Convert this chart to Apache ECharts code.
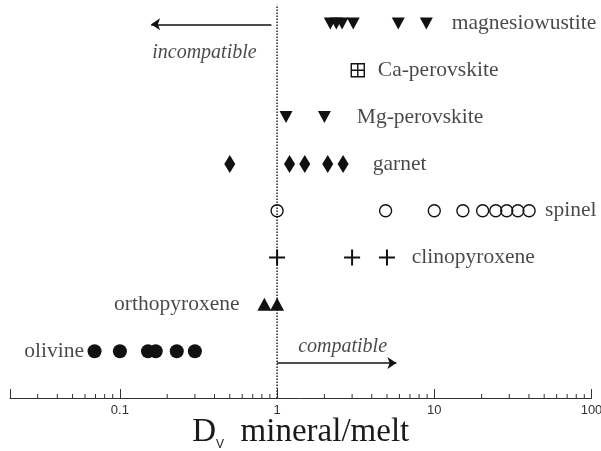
<!DOCTYPE html>
<html>
<head>
<meta charset="utf-8">
<script src="https://cdn.jsdelivr.net/npm/echarts@6/dist/echarts.min.js"></script>
<style>
  html, body { margin: 0; padding: 0; background: #fff; }
  #chart { width: 601px; height: 451px; }
</style>
</head>
<body>
<div id="chart"></div>
<script>
// Vanadium partition coefficients, mineral/melt, one row per mineral (row 1 = bottom)
const minerals = ['olivine', 'orthopyroxene', 'clinopyroxene', 'spinel', 'garnet', 'Mg-perovskite', 'Ca-perovskite', 'magnesiowustite'];
const olivine = [0.069, 0.10, 0.151, 0.169, 0.23, 0.30];
const orthopyroxene = [0.83, 1.0];
const clinopyroxene = [1.0, 3.0, 5.0];
const spinel = [1.0, 4.9, 10, 15.2, 20.3, 24.6, 28.9, 34.0, 40.1];
const garnet = [0.50, 1.2, 1.5, 2.1, 2.63];
const mgPerovskite = [1.14, 2.0];
const caPerovskite = [3.26];
const magnesiowustite = [2.18, 2.38, 2.59, 3.05, 5.9, 8.9];

// Where each mineral's name is anchored on the D axis, and on which side of the anchor it sits
const nameAnchors = [0.0592, 0.577, 7.19, 50.6, 4.06, 3.21, 4.37, 12.9];
const nameSides = ['left', 'left', 'right', 'right', 'right', 'right', 'right', 'right'];

// Axis ticks
const majorTickLabels = ['0.1', '1', '10', '100'];
const minorTicks = [0.03, 0.04, 0.05, 0.06, 0.07, 0.08, 0.09,
                    0.2, 0.3, 0.4, 0.5, 0.6, 0.7, 0.8, 0.9,
                    2, 3, 4, 5, 6, 7, 8, 9,
                    20, 30, 40, 50, 60, 70, 80, 90];

// Direction arrows: [start D, end D, row], and their captions: [D, row]
const incompatibleArrow = [0.92, 0.158, 7.98];
const compatibleArrow = [1.0, 5.74, 0.75];
const incompatibleCaption = [0.345, 7.37];
const compatibleCaption = [2.61, 1.09];

const INK = '#111';
const TEXT = '#1a1a1a';
const SERIF = '"Liberation Serif", "Times New Roman", serif';

const row = (name) => minerals.indexOf(name) + 1;
const pts = (values, name) => values.map(v => [v, row(name)]);

const filled = { color: INK, opacity: 1 };
const hollow = { color: 'rgba(0,0,0,0)', borderColor: INK, borderWidth: 1.4, opacity: 1 };

const chart = echarts.init(document.getElementById('chart'), null, { renderer: 'canvas' });

const option = {
  animation: false,
  backgroundColor: '#fff',
  grid: { left: 10, right: 9.5, top: 0, bottom: 53, containLabel: false, outerBoundsMode: 'none' },
  xAxis: {
    type: 'log',
    logBase: 10,
    min: 0.02,
    max: 100,
    splitLine: { show: false },
    axisLine: { onZero: false, lineStyle: { color: '#333', width: 1 } },
    axisTick: { inside: true, length: 9, lineStyle: { color: '#333', width: 1 } },
    axisLabel: {
      margin: 6,
      fontFamily: '"Liberation Sans", Arial, sans-serif',
      fontSize: 13,
      color: '#333',
      hideOverlap: false,
      formatter: (v) => {
        const s = String(+v.toPrecision(6));
        return majorTickLabels.indexOf(s) >= 0 ? s : '';
      }
    },
    name: '{d|D}{v|V}{m|  mineral/melt}',
    nameLocation: 'middle',
    nameGap: 15,
    nameMoveOverlap: false,
    nameTextStyle: {
      verticalAlign: 'top',
      rich: {
        d: { fontFamily: SERIF, fontSize: 33, color: TEXT, lineHeight: 38 },
        v: { fontFamily: '"Liberation Sans", Arial, sans-serif', fontSize: 12, color: TEXT, lineHeight: 14, verticalAlign: 'bottom' },
        m: { fontFamily: SERIF, fontSize: 33, color: TEXT, lineHeight: 38 }
      }
    }
  },
  yAxis: {
    type: 'value',
    min: 0,
    max: 8.5,
    show: false
  },
  series: [
    // minor ticks along the D axis
    {
      type: 'custom',
      silent: true,
      clip: false,
      data: minorTicks.map(v => [v, 0]),
      renderItem: (params, api) => {
        const p = api.coord([api.value(0), 0]);
        return {
          type: 'line',
          shape: { x1: p[0], y1: p[1], x2: p[0], y2: p[1] - 4 },
          style: { stroke: '#333', lineWidth: 1 }
        };
      }
    },
    // D = 1 reference line
    {
      type: 'line',
      silent: true,
      symbol: 'none',
      data: [[1, 0], [1, 8.4]],
      lineStyle: { color: '#222', width: 1.5, type: [1.5, 1.5] },
      z: 1
    },
    // arrows
    {
      type: 'lines',
      coordinateSystem: 'cartesian2d',
      silent: true,
      symbol: ['none', 'arrow'],
      symbolSize: 9,
      lineStyle: { color: INK, width: 1.5, opacity: 1 },
      data: [
        { coords: [[incompatibleArrow[0], incompatibleArrow[2]], [incompatibleArrow[1], incompatibleArrow[2]]] },
        { coords: [[compatibleArrow[0], compatibleArrow[2]], [compatibleArrow[1], compatibleArrow[2]]] }
      ]
    },
    {
      type: 'scatter',
      silent: true,
      symbolSize: 0.1,
      itemStyle: { color: 'rgba(0,0,0,0)' },
      data: [
        [incompatibleCaption[0], incompatibleCaption[1], 'incompatible'],
        [compatibleCaption[0], compatibleCaption[1], 'compatible']
      ],
      label: {
        show: true,
        position: 'inside',
        formatter: (p) => p.value[2],
        fontFamily: SERIF,
        fontStyle: 'italic',
        fontSize: 20,
        color: TEXT
      }
    },
    // minerals
    { name: 'magnesiowustite', type: 'scatter', data: pts(magnesiowustite, 'magnesiowustite'),
      symbol: 'triangle', symbolRotate: 180, symbolSize: [13, 12], itemStyle: filled },
    { name: 'Ca-perovskite', type: 'scatter', data: pts(caPerovskite, 'Ca-perovskite'),
      symbol: 'path://M0,0L12,0L12,12L0,12Z M6,0L6,12 M0,6L12,6', symbolSize: 13, itemStyle: hollow },
    { name: 'Mg-perovskite', type: 'scatter', data: pts(mgPerovskite, 'Mg-perovskite'),
      symbol: 'triangle', symbolRotate: 180, symbolSize: [13, 12], itemStyle: filled },
    { name: 'garnet', type: 'scatter', data: pts(garnet, 'garnet'),
      symbol: 'diamond', symbolSize: [11, 18], itemStyle: filled },
    { name: 'spinel', type: 'scatter', data: pts(spinel, 'spinel'),
      symbol: 'circle', symbolSize: 12, itemStyle: hollow },
    { name: 'clinopyroxene', type: 'scatter', data: pts(clinopyroxene, 'clinopyroxene'),
      symbol: 'path://M0,8L16,8 M8,0L8,16', symbolSize: 16,
      itemStyle: { color: 'rgba(0,0,0,0)', borderColor: INK, borderWidth: 2, opacity: 1 } },
    { name: 'orthopyroxene', type: 'scatter', data: pts(orthopyroxene, 'orthopyroxene'),
      symbol: 'triangle', symbolSize: [14, 13], itemStyle: filled },
    { name: 'olivine', type: 'scatter', data: pts(olivine, 'olivine'),
      symbol: 'circle', symbolSize: 14, itemStyle: filled },
    // mineral names
    {
      type: 'scatter',
      silent: true,
      symbolSize: 0.1,
      itemStyle: { color: 'rgba(0,0,0,0)' },
      data: minerals.map((m, i) => ({
        value: [nameAnchors[i], i + 1, m],
        label: { position: nameSides[i] }
      })),
      label: {
        show: true,
        distance: 0,
        formatter: (p) => p.value[2],
        fontFamily: SERIF,
        fontSize: 21.5,
        color: TEXT
      }
    }
  ]
};

chart.setOption(option);
</script>
</body>
</html>
